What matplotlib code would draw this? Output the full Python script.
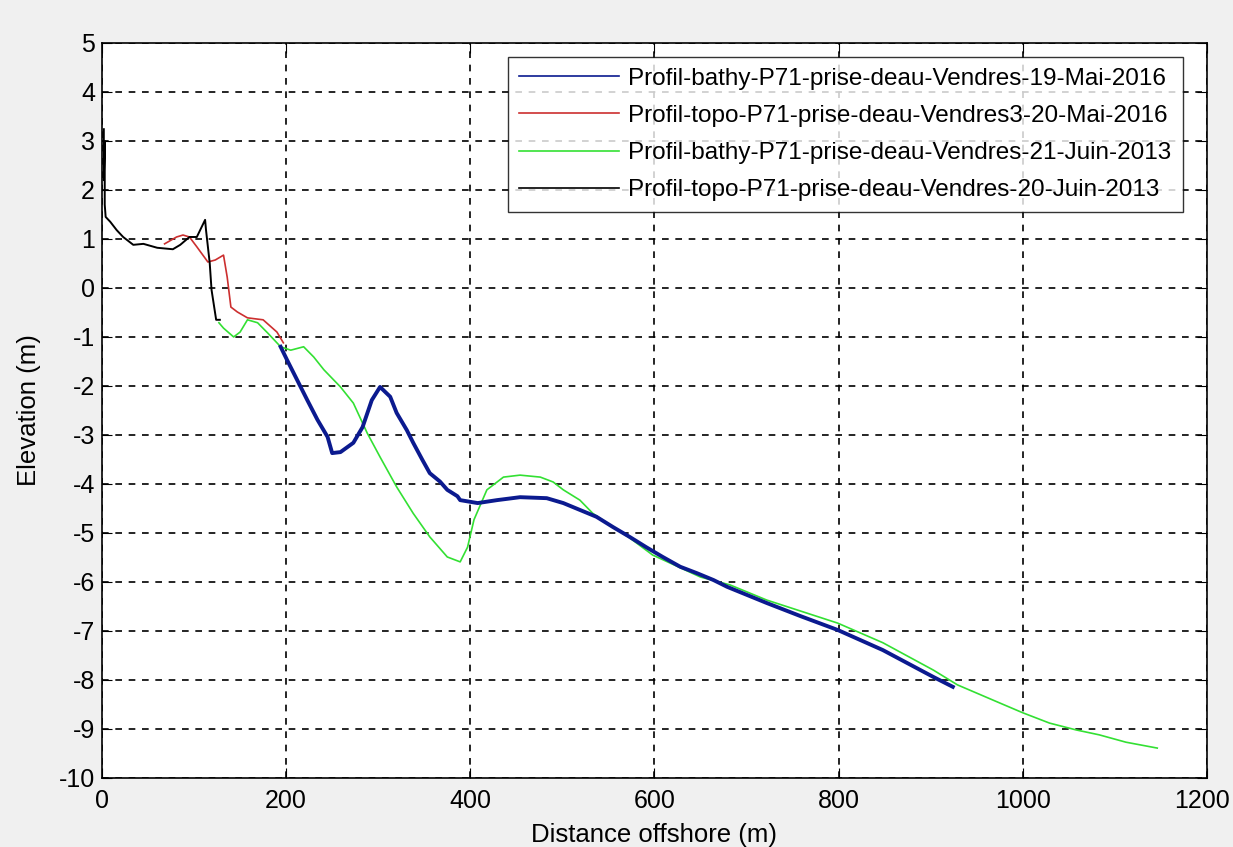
import matplotlib
matplotlib.use("Agg")
import matplotlib.pyplot as plt
import matplotlib.transforms as mtransforms

plt.rcParams['font.family'] = ['Liberation Sans', 'DejaVu Sans']
plt.rcParams['axes.unicode_minus'] = False

# Profil-bathy 19-Mai-2016 (blue)
bathy16_x = [194, 201, 212, 223, 234, 245, 250, 259, 273, 283, 293, 302, 313, 320, 331,
             338, 348, 356, 367, 375, 386, 389, 408, 429, 454, 483, 501, 519, 537, 555,
             573, 591, 609, 628, 646, 664, 679, 722, 759, 799, 848, 903, 924]
bathy16_y = [-1.2, -1.47, -1.88, -2.29, -2.69, -3.04, -3.37, -3.35, -3.16, -2.84, -2.29, -2.02, -2.22, -2.55, -2.9,
             -3.16, -3.51, -3.78, -3.95, -4.12, -4.25, -4.33, -4.39, -4.33, -4.27, -4.29, -4.39, -4.53, -4.67, -4.88,
             -5.08, -5.29, -5.49, -5.69, -5.82, -5.96, -6.1, -6.43, -6.7, -6.98, -7.39, -7.94, -8.14]

# Profil-topo 20-Mai-2016 (red)
topo16_x = [68, 81, 88, 95, 103, 115, 123, 132, 136, 140, 147, 158, 175, 190, 197]
topo16_y = [0.9, 1.04, 1.08, 1.04, 0.84, 0.53, 0.57, 0.67, 0.22, -0.39, -0.49, -0.61, -0.65, -0.9, -1.12]

# Profil-bathy 21-Juin-2013 (green)
bathy13_x = [127, 132, 143, 150, 158, 169, 180, 194, 205, 219, 230, 241, 259, 273, 288,
             302, 320, 338, 356, 375, 389, 397, 404, 418, 436, 454, 476, 490, 501, 519,
             533, 555, 573, 598, 628, 650, 682, 722, 799, 848, 903, 929, 975, 1000, 1029,
             1058, 1083, 1112, 1146]
bathy13_y = [-0.71, -0.82, -1.0, -0.9, -0.65, -0.71, -0.92, -1.2, -1.27, -1.2, -1.41, -1.67, -2.02, -2.35, -2.96,
             -3.45, -4.06, -4.6, -5.08, -5.49, -5.59, -5.29, -4.73, -4.12, -3.86, -3.82, -3.86, -3.96, -4.12, -4.33,
             -4.6, -4.88, -5.1, -5.45, -5.71, -5.9, -6.06, -6.37, -6.84, -7.24, -7.8, -8.1, -8.47, -8.67, -8.88,
             -9.02, -9.12, -9.27, -9.39]

# Profil-topo 20-Juin-2013 (black)
topo13_x = [2, 2, 3, 3, 3, 4, 9, 16, 23, 34, 45, 60, 77, 85, 95, 103, 112, 113, 117, 119, 124, 128]
topo13_y = [3.24, 2.2, 3.0, 2.4, 1.7, 1.45, 1.35, 1.18, 1.04, 0.88, 0.9, 0.82, 0.79, 0.88, 1.04, 1.04,
            1.39, 1.18, 0.51, -0.04, -0.65, -0.65]

labels = ['Profil-bathy-P71-prise-deau-Vendres-19-Mai-2016',
          'Profil-topo-P71-prise-deau-Vendres3-20-Mai-2016',
          'Profil-bathy-P71-prise-deau-Vendres-21-Juin-2013',
          'Profil-topo-P71-prise-deau-Vendres-20-Juin-2013']

fig = plt.figure(figsize=(12.33, 8.47), dpi=100, facecolor='#f0f0f0')
ax = fig.add_axes([0.0827, 0.0815, 0.8962, 0.8678])

l3, = ax.plot(bathy13_x, bathy13_y, color='#33e033', lw=1.2, label=labels[2])
l1, = ax.plot(bathy16_x, bathy16_y, color='#0b1a8f', lw=2.8, label=labels[0])
l2, = ax.plot(topo16_x, topo16_y, color='#cc2f2f', lw=1.2, label=labels[1])
l4, = ax.plot(topo13_x, topo13_y, color='black', lw=1.4, label=labels[3])

ax.set_xlim(0, 1200)
ax.set_ylim(-10, 5)
ax.set_xticks(range(0, 1201, 200))
ax.set_yticks(range(-10, 6, 1))
ax.grid(True, color='black', linestyle=(0, (4, 4)), linewidth=1.2)
ax.tick_params(axis='both', direction='in', top=True, right=True, length=7, labelsize=18)
ax.tick_params(axis='x', pad=8)
ax.tick_params(axis='y', pad=5)
for s in ax.spines.values():
    s.set_linewidth(1.2)

# nudge the last x tick label so it stays inside the figure
last = ax.get_xticklabels()[-1]
last.set_transform(last.get_transform() + mtransforms.ScaledTranslation(-5 / 100, 0, fig.dpi_scale_trans))

ax.set_xlabel('Distance offshore (m)', fontsize=18.5, labelpad=7)
ax.set_ylabel('Elevation (m)', fontsize=18.5, labelpad=12.5)

leg = ax.legend(handles=[l1, l2, l3, l4], loc='upper right', bbox_to_anchor=(0.978, 0.981),
                fontsize=17.5, frameon=True, fancybox=False, edgecolor='black',
                handlelength=4.1, handletextpad=0.4, borderpad=0.45, labelspacing=0.62,
                borderaxespad=0)
leg.get_frame().set_linewidth(1.0)
for line in leg.get_lines():
    line.set_linewidth(1.2)

fig.savefig('out.png', dpi=100, facecolor=fig.get_facecolor())
